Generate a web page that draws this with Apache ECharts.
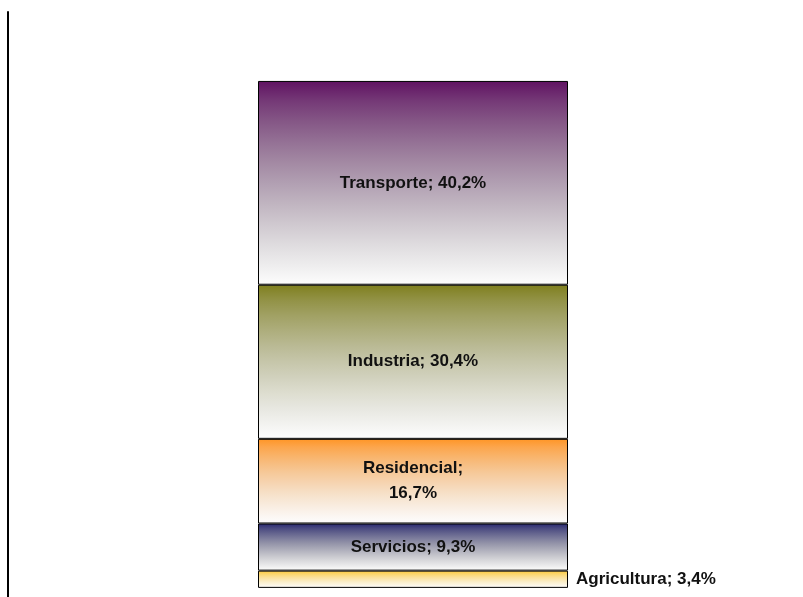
<!DOCTYPE html>
<html>
<head>
<meta charset="utf-8">
<style>
  html, body { margin: 0; padding: 0; background: #ffffff; }
  #chart { width: 803px; height: 597px; }
</style>
<script src="https://cdn.jsdelivr.net/npm/echarts@6/dist/echarts.min.js"></script>
</head>
<body>
<div id="chart"></div>
<script>
// Energy consumption share by sector (%), stacked bottom to top
const sectors = ['Agricultura', 'Servicios', 'Residencial', 'Industria', 'Transporte'];
const shares = [3.4, 9.3, 16.7, 30.4, 40.2];
const topColors = ['#ffc72e', '#26266f', '#ff9526', '#7f7f1e', '#601262'];
const category = [''];

const fmt = v => v.toFixed(1).replace('.', ',') + '%';

// Vertical fill: full colour at the top, washing out to white;
// darker colours pass through a greyer tone on the way.
function fade(hex) {
  const c = [1, 3, 5].map(k => parseInt(hex.substr(k, 2), 16));
  const grey = 0.3 * c[0] + 0.59 * c[1] + 0.11 * c[2];
  const desat = 1.1 * (1 - grey / 255) + 0.05;
  const stops = [];
  for (let i = 0; i <= 10; i++) {
    const t = i / 10;
    const d = Math.min(1, t * desat);
    const w = Math.pow(t, 0.8);
    const rgb = c.map(ch => {
      const m = ch * (1 - d) + grey * d;
      return Math.round(m + (253 - m) * w);
    });
    stops.push({ offset: t, color: 'rgb(' + rgb.join(',') + ')' });
  }
  return new echarts.graphic.LinearGradient(0, 0, 0, 1, stops);
}

const labelFont = {
  fontFamily: '"Liberation Sans Narrow", "Arial Narrow", "Liberation Sans", Arial, sans-serif',
  fontWeight: 'bold',
  fontSize: 17,
  color: '#111111',
  lineHeight: 25
};

const series = sectors.map((name, i) => {
  const isSmall = shares[i] < 5;
  const wrap = name === 'Residencial';
  return {
    name: name,
    type: 'bar',
    stack: 'total',
    barWidth: 310,
    data: [shares[i]],
    itemStyle: {
      color: fade(topColors[i]),
      borderColor: '#000000',
      borderWidth: 1
    },
    label: Object.assign({
      show: true,
      position: isSmall ? 'right' : 'inside',
      distance: 8,
      formatter: p => name + ';' + (wrap ? '\n' : ' ') + fmt(p.value)
    }, labelFont),
    emphasis: { disabled: true }
  };
});

const chart = echarts.init(document.getElementById('chart'), null, { renderer: 'canvas' });
chart.setOption({
  animation: false,
  backgroundColor: '#ffffff',
  grid: {
    left: 8, width: 810, top: 12, bottom: 0,
    containLabel: false,
    outerBoundsMode: 'none'
  },
  xAxis: {
    type: 'category',
    data: category,
    axisLine: { show: false },
    axisTick: { show: false },
    axisLabel: { show: false },
    splitLine: { show: false }
  },
  yAxis: {
    type: 'value',
    min: -1.8,
    max: 113.6,
    axisLine: { show: true, lineStyle: { color: '#000000', width: 2 } },
    axisTick: { show: false },
    axisLabel: { show: false },
    splitLine: { show: false }
  },
  series: series
});
</script>
</body>
</html>
